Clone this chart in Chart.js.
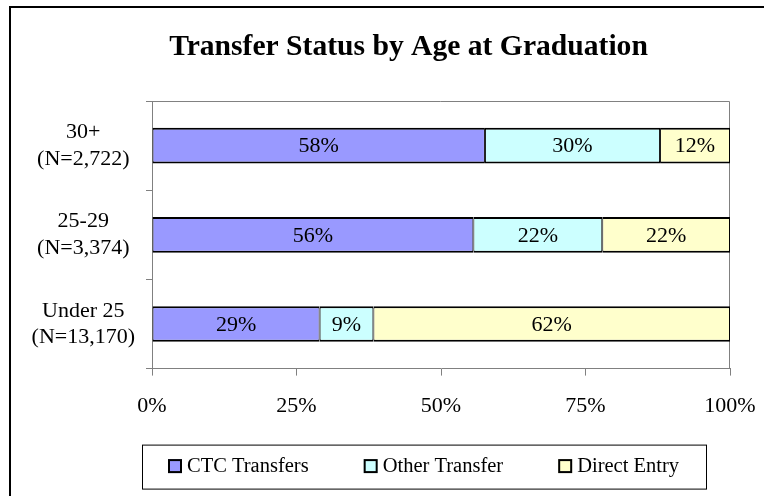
<!DOCTYPE html>
<html>
<head>
<meta charset="utf-8">
<title>Transfer Status by Age at Graduation</title>
<script src="https://cdn.jsdelivr.net/npm/chart.js@4.4.0/dist/chart.umd.min.js"></script>
<style>
    html, body { margin: 0; padding: 0; background: #fff; }
    #wrap { position: relative; width: 764px; height: 496px; }
</style>
</head>
<body>
<div id="wrap"><canvas id="transferChart"></canvas></div>
<script>
// Age groups, top to bottom, with the share (%) of graduates by transfer status
const ageGroups = [['30+', '(N=2,722)'], ['25-29', '(N=3,374)'], ['Under 25', '(N=13,170)']];
const ctcTransfers = [57.6, 55.6, 29.0];
const otherTransfer = [30.3, 22.3, 9.3];
const directEntry = [12.1, 22.1, 61.7];
const seriesNames = ['CTC Transfers', 'Other Transfer', 'Direct Entry'];
const xTicks = [0, 25, 50, 75, 100];

const serif = '"Liberation Serif", "Times New Roman", serif';
const axisGrey = '#808080';
const fontStr = size => Chart.helpers.toFont({ family: serif, size: size }).string;

// Outer frame of the chart object (only left and top edge are in view)
const framePlugin = {
    id: 'frame',
    afterLayout(chart) {
        // let the two-line category labels draw left of the narrow y scale box
        chart.scales.y.left = 12;
    },
    beforeDraw(chart) {
        const ctx = chart.ctx;
        ctx.save();
        ctx.strokeStyle = '#000';
        ctx.lineWidth = 2;
        ctx.beginPath();
        ctx.moveTo(10, chart.height);
        ctx.lineTo(10, 7);
        ctx.lineTo(chart.width, 7);
        ctx.stroke();
        ctx.restore();
    }
};

// Grey top/right edges of the plot area
const plotBorderPlugin = {
    id: 'plotBorder',
    beforeDatasetsDraw(chart) {
        const { ctx, chartArea: a } = chart;
        ctx.save();
        ctx.strokeStyle = axisGrey;
        ctx.lineWidth = 1;
        ctx.beginPath();
        ctx.moveTo(a.left, a.top + 0.5);
        ctx.lineTo(a.right - 0.5, a.top + 0.5);
        ctx.lineTo(a.right - 0.5, a.bottom);
        ctx.stroke();
        ctx.restore();
    }
};

// Percentage written in the middle of every segment
const segmentLabelPlugin = {
    id: 'segmentLabels',
    afterDatasetsDraw(chart) {
        const ctx = chart.ctx;
        ctx.save();
        ctx.font = fontStr(22);
        ctx.fillStyle = '#000';
        ctx.textAlign = 'center';
        ctx.textBaseline = 'middle';
        chart.data.datasets.forEach((ds, i) => {
            chart.getDatasetMeta(i).data.forEach((bar, j) => {
                const { x, base, y } = bar.getProps(['x', 'base', 'y'], true);
                ctx.fillText(Math.round(ds.data[j]) + '%', (x + base) / 2, y + 1);
            });
        });
        ctx.restore();
    }
};

// Boxed legend under the axis, drawn from the datasets
const boxLegendPlugin = {
    id: 'boxLegend',
    afterDraw(chart) {
        const { ctx, chartArea } = chart;
        const boxL = chartArea.left - 10;
        const boxR = chartArea.right - 24;
        const boxT = chartArea.bottom + 76;
        const boxB = chartArea.bottom + 120;
        ctx.save();
        ctx.strokeStyle = '#000';
        ctx.lineWidth = 1;
        ctx.strokeRect(boxL + 0.5, boxT + 0.5, boxR - boxL, boxB - boxT);

        ctx.font = fontStr(20.5);
        ctx.textBaseline = 'middle';
        ctx.textAlign = 'left';
        const sw = 14, gap = 5, spacing = 55;
        const items = chart.data.datasets.map(ds => ({
            ds: ds,
            width: sw + gap + ctx.measureText(ds.label).width
        }));
        const total = items.reduce((s, it) => s + it.width, 0) + spacing * (items.length - 1);
        let x = Math.round((boxL + boxR) / 2 - total / 2);
        const cy = boxT + 21.5;
        items.forEach(it => {
            ctx.fillStyle = it.ds.backgroundColor;
            ctx.fillRect(x, cy - sw / 2, sw, sw);
            ctx.lineWidth = 2;
            ctx.strokeStyle = '#000';
            ctx.strokeRect(x + 1, cy - sw / 2 + 1, sw - 2, sw - 2);
            ctx.fillStyle = '#000';
            ctx.fillText(it.ds.label, x + sw + gap, cy + 1);
            x += it.width + spacing;
        });
        ctx.restore();
    }
};

const barBorder = { top: 2, bottom: 2, left: 1, right: 1 };

const ctx = document.getElementById('transferChart').getContext('2d');
new Chart(ctx, {
    type: 'bar',
    data: {
        labels: ageGroups,
        datasets: [
            { label: seriesNames[0], data: ctcTransfers, backgroundColor: '#9999FF' },
            { label: seriesNames[1], data: otherTransfer, backgroundColor: '#CCFFFF' },
            { label: seriesNames[2], data: directEntry, backgroundColor: '#FFFFCC' }
        ].map(ds => ({
            ...ds,
            borderColor: '#000',
            borderWidth: barBorder,
            borderSkipped: false,
            categoryPercentage: 1,
            barPercentage: 0.4
        }))
    },
    options: {
        indexAxis: 'y',
        responsive: true,
        maintainAspectRatio: false,
        animation: false,
        devicePixelRatio: 1,
        layout: {
            padding: { left: 87, right: 34, top: 0, bottom: 59 }
        },
        plugins: {
            legend: { display: false },
            tooltip: { enabled: false },
            title: {
                display: true,
                text: 'Transfer Status by Age at Graduation',
                color: '#000',
                font: { family: serif, size: 29.6, weight: 'bold' },
                padding: { top: 29.7, bottom: 35.8 }
            }
        },
        scales: {
            x: {
                stacked: true,
                min: 0,
                max: 100,
                afterBuildTicks: scale => {
                    scale.ticks = xTicks.map(v => ({ value: v }));
                },
                afterFit: scale => {
                    scale.paddingLeft = 0;
                    scale.paddingRight = 0;
                },
                ticks: {
                    color: '#000',
                    font: { family: serif, size: 22 },
                    padding: 17.5,
                    callback: v => v + '%'
                },
                grid: { drawOnChartArea: false, tickLength: 7, color: axisGrey },
                border: { color: axisGrey }
            },
            y: {
                stacked: true,
                afterFit: scale => {
                    scale.width = 65;
                    scale.paddingTop = 0;
                    scale.paddingBottom = 0;
                },
                ticks: {
                    color: '#000',
                    font: { family: serif, size: 22 },
                    crossAlign: 'center',
                    padding: 11
                },
                grid: { offset: true, drawOnChartArea: false, tickLength: 6, color: axisGrey },
                border: { color: axisGrey }
            }
        }
    },
    plugins: [framePlugin, plotBorderPlugin, segmentLabelPlugin, boxLegendPlugin]
});
</script>
</body>
</html>
